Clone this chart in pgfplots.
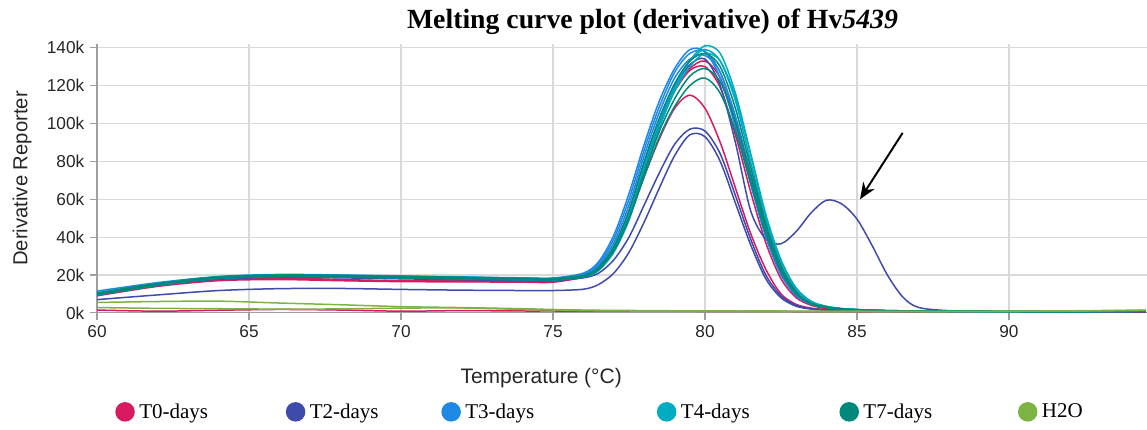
\documentclass[border=0pt]{standalone}
\usepackage{fontspec}
\setmainfont{Liberation Sans}
\newfontfamily\timesfont{Liberation Serif}
\usepackage{pgfplots}
\usepackage{pgfplotstable}
\pgfplotsset{compat=1.18}
\usetikzlibrary{arrows.meta}

\definecolor{cT0}{HTML}{D81B60}
\definecolor{cT2}{HTML}{3F4BAA}
\definecolor{cT3}{HTML}{1E88E5}
\definecolor{cT4}{HTML}{00ACC1}
\definecolor{cT7}{HTML}{00897B}
\definecolor{cH2O}{HTML}{7CB342}

% derivative reporter in thousands; r=T0, b=T2, c=T3, d=T4, e=T7, g=H2O
\pgfplotstableread{
T r1 r2 r3 r4 b1 b2 b3 c1 c2 c3 d1 d2 d3 e1 e2 e3 g1 g2
60 10 9.5 9 1.5 10 7 9.5 11.5 10.5 10 10.5 10 9.5 10.5 10 9.5 5.5 2.8
62 15 14.5 14 0.9 15 9.5 14.5 16 15.5 15 15.5 15 14.5 15.5 15 14.5 6 2.4
64 18 17.5 17 1.4 18.3 11.8 17.8 19.2 18.8 18.4 19 18.6 18.2 19 18.6 18.2 6.2 2.2
66 18.5 18 17.6 1.8 19.3 12.8 18.8 20.3 19.8 19.4 20 19.6 19.2 20 19.6 19.2 5.2 2
68 17.6 17.3 17 1.5 19 12.9 18.5 20 19.6 19.2 19.8 19.4 19 19.8 19.4 19 4.3 2.1
70 17 16.8 16.5 0.9 18.5 12.4 18 19.5 19.1 18.7 19.3 18.9 18.5 19.3 18.9 18.5 3.3 2.5
72 17 16.7 16.4 1.2 18 12 17.5 19 18.6 18.2 18.8 18.4 18 18.8 18.4 18 2.8 2.6
74 16.8 16.5 16.2 1 17.6 11.8 17 18.5 18.1 17.7 18.3 17.9 17.5 18.3 17.9 17.5 2.2 1.8
75 16.8 16.5 16.2 1 17.6 11.8 17 18.4 18 17.6 18.1 17.8 17.4 18.2 17.8 17.4 1.8 1.5
76 19 19.5 19 0.9 19 12.5 18.5 21 20.5 20 19 19.3 19 19.8 19.3 19 1.5 1.2
76.5 23 24 23 0.9 23 15 21 27 26 25 22.5 23.5 22.5 24 23 23 1.4 1.1
77 34 35 33 0.9 34 21 28 41 39 37 32 34 33 35 33 33 1.3 1
77.5 53 54 50 0.9 52 32 40 63 60 57 49 52 50 54 50 50 1.3 1
78 78 79 72 0.9 77 48 57 89 86 83 74 78 75 80 74 72 1.2 0.9
78.5 100 100 92 0.9 100 66 74 112 109 106 98 101 98 103 96 93 1.2 0.9
79 118 117 108 0.9 119 83 89 129 127 124 118 120 117 121 113 109 1.1 0.9
79.5 129 128 115 0.9 131 94 97 139 137 134 133 133 130 133 125 120 1.1 0.8
80 133 130 108 0.8 134 93 96 138 138 136 141 139 137 137 129 124 1.1 0.8
80.5 124 119 90 0.8 120 80 84 124 127 127 137 133 133 130 122 116 1.1 0.8
81 100 94 66 0.8 90 58 62 98 102 104 116 112 114 108 101 96 1 0.8
81.5 70 64 42 0.8 54 36 39 68 72 74 84 80 84 77 73 69 1 0.7
82 42 37 23 0.8 39 18 20 40 44 46 50 48 52 47 45 42 1 0.7
82.5 21 18 10 0.8 36.5 8 9 20 23 24 27 25 28 25 24 22 1 0.7
83 9 8 4.5 0.7 43 3.5 4 9 10 11 13 12 13 11 10.5 10 0.9 0.7
83.5 4.5 4 2.5 0.7 53 2 2.2 4.5 5 5 6 5.5 6 5 5 4.8 0.9 0.7
84 2.5 2.3 1.8 0.7 59.5 1.5 1.6 2.8 3 3 3.5 3.2 3.3 3 3 2.9 0.9 0.6
84.5 1.8 1.7 1.4 0.7 57.5 1.2 1.3 2 2.1 2.1 2.3 2.2 2.2 2.1 2.1 2 0.9 0.6
85 1.4 1.3 1.1 0.6 49.5 1 1.1 1.6 1.7 1.7 1.8 1.7 1.7 1.6 1.6 1.6 0.9 0.6
85.5 1.2 1.1 1 0.6 35.5 0.9 1 1.3 1.4 1.4 1.4 1.4 1.4 1.3 1.3 1.3 0.8 0.6
86 1 1 0.9 0.6 20 0.8 0.9 1.1 1.1 1.1 1.2 1.2 1.2 1.1 1.1 1.1 0.8 0.6
86.5 0.9 0.9 0.8 0.6 8.5 0.8 0.8 1 1 1 1.1 1.1 1.1 1 1 1 0.8 0.6
87 0.8 0.8 0.8 0.6 3 0.7 0.8 0.9 0.9 0.9 1 1 1 0.9 0.9 0.9 0.8 0.6
88 0.7 0.7 0.7 0.5 1.2 0.6 0.7 0.8 0.8 0.8 0.9 0.9 0.9 0.8 0.8 0.8 0.8 0.6
90 0.6 0.6 0.6 0.5 0.7 0.5 0.6 0.7 0.7 0.7 0.8 0.8 0.8 0.7 0.7 0.7 0.9 0.7
92 0.6 0.6 0.6 0.5 0.6 0.6 0.6 0.7 0.7 0.7 0.8 0.8 0.8 0.7 0.7 0.7 1.1 0.9
94.5 0.7 0.7 0.7 0.5 0.7 0.7 0.7 0.9 0.9 0.9 1 1 1 0.9 0.9 0.9 1.5 1.3
}\melt

\newcommand{\lent}[2]{\makebox[#1][l]{\hspace{3pt}#2}}

\begin{document}
\begin{tikzpicture}
\begin{axis}[
    name=ax,
    scale only axis,
    width=700pt, height=179.3pt,
    xmin=60, xmax=94.54, ymin=0, ymax=142,
    xtick={60,65,...,90},
    ytick={0,20,...,140},
    yticklabels={0k,20k,40k,60k,80k,100k,120k,140k},
    axis x line*=bottom, axis y line*=left,
    axis line style={-, draw=gray!75, line width=0.8pt},
    grid=major, grid style={gray!30, line width=0.8pt},
    tick align=outside, major tick length=5pt,
    tick style={gray!75, line width=0.8pt},
    ticklabel style={font=\fontsize{11.5}{13}\selectfont, text=black!85},
    /pgf/number format/assume math mode=true,
    xlabel={Temperature (°C)},
    xlabel style={at={(axis description cs:0.423,0)}, anchor=center, yshift=-43.5pt,
        font=\fontsize{14}{16}\selectfont, text=black!85},
    ylabel={Derivative Reporter},
    ylabel style={at={(axis description cs:-0.0714,0.5)}, anchor=center,
        font=\fontsize{13.5}{15}\selectfont, text=black!85},
    title={Melting curve plot (derivative) of Hv\textit{5439}},
    title style={at={(axis description cs:0.529,1)}, anchor=base, yshift=4pt,
        font=\timesfont\bfseries\fontsize{18.5}{20}\selectfont},
    every axis plot/.append style={smooth, line width=1pt},
    legend columns=6,
    legend image code/.code={\fill (6pt,0pt) circle (6pt);},
    legend style={draw=none, fill=none, inner sep=0pt,
        at={(axis description cs:0.0171,-0.368)}, anchor=west,
        font=\timesfont\fontsize{14}{16}\selectfont,
        nodes={inner sep=0pt}, cells={anchor=west}},
]
% T0-days
\addplot[color=cT0] table[x=T, y=r1] {\melt};
\addlegendentry{\lent{100.7pt}{T0-days}}
\addplot[color=cT0, forget plot] table[x=T, y=r2] {\melt};
\addplot[color=cT0, forget plot] table[x=T, y=r3] {\melt};
\addplot[color=cT0, forget plot] table[x=T, y=r4] {\melt};
% T2-days
\addplot[color=cT2] table[x=T, y=b2] {\melt};
\addlegendentry{\lent{90.7pt}{T2-days}}
\addplot[color=cT2, forget plot] table[x=T, y=b3] {\melt};
\addplot[color=cT2, forget plot] table[x=T, y=b1] {\melt};
% T3-days
\addplot[color=cT3] table[x=T, y=c1] {\melt};
\addlegendentry{\lent{130.7pt}{T3-days}}
\addplot[color=cT3, forget plot] table[x=T, y=c2] {\melt};
\addplot[color=cT3, forget plot] table[x=T, y=c3] {\melt};
% T4-days
\addplot[color=cT4] table[x=T, y=d1] {\melt};
\addlegendentry{\lent{108.7pt}{T4-days}}
\addplot[color=cT4, forget plot] table[x=T, y=d2] {\melt};
\addplot[color=cT4, forget plot] table[x=T, y=d3] {\melt};
% T7-days
\addplot[color=cT7] table[x=T, y=e1] {\melt};
\addlegendentry{\lent{106pt}{T7-days}}
\addplot[color=cT7, forget plot] table[x=T, y=e2] {\melt};
\addplot[color=cT7, forget plot] table[x=T, y=e3] {\melt};
% H2O
\addplot[color=cH2O] table[x=T, y=g1] {\melt};
\addlegendentry{\lent{40pt}{H2O}}
\addplot[color=cH2O, forget plot] table[x=T, y=g2] {\melt};

\draw[-{Stealth[length=11pt, width=9pt]}, line width=1.3pt, black]
    (axis cs:86.5,95) -- (axis cs:85.1,60);
\end{axis}
\pgfresetboundingbox
\path[use as bounding box] ([xshift=-64.7pt, yshift=-78pt]ax.south west)
    rectangle ([yshift=29.3pt]ax.north east);
\end{tikzpicture}
\end{document}
